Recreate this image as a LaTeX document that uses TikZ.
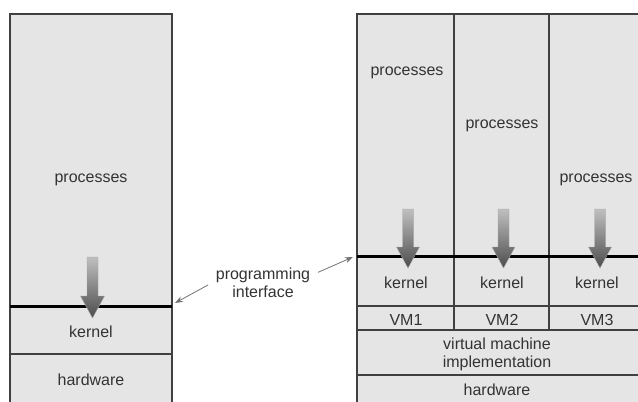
\documentclass[tikz,border=0pt]{standalone}
\usepackage{fontspec}
\setmainfont{Liberation Sans}
\usetikzlibrary{arrows.meta,positioning}

\tikzset{
  layer/.style={draw=black!75, fill=black!10, line width=1.3pt},
  api/.style={draw=black, line width=3pt},
  txt/.style={font=\fontsize{16}{18}\selectfont, text=black!80, inner sep=0pt, align=center},
  ptr/.style={draw=black!55, line width=0.8pt, -{Stealth[length=8pt,width=6pt]}, shorten <=4pt},
  callshade/.style={top color=black!25, bottom color=black!70, draw=black!35, line width=0.4pt}
}
% x, top, head start, tip, head half width, shaft half width
\newcommand{\procarrow}[6]{%
  \shade[callshade] ({#1-#6},#2) -- ({#1+#6},#2) -- ({#1+#6},#3) -- ({#1+#5},#3) -- (#1,#4)
    -- ({#1-#5},#3) -- ({#1-#6},#3) -- cycle;}

\begin{document}
\begin{tikzpicture}[x=1pt, y=-1pt, on grid]
  \useasboundingbox (0,0) rectangle (638,402);
  \clip (0,0) rectangle (638,402);

  % plain machine
  \draw[layer] (10,14) rectangle (172,420);
  \draw[layer] (10,354) -- (172,354);
  \draw[api] (10,306) -- (172,306);
  \procarrow{92.5}{257}{296}{318}{12}{5.5}

  \node[txt] (proc0) at (91,180) {processes};
  \node[txt] (kern0) at (91,332) {kernel};
  \node[txt] (hw0) at (91,380) {hardware};

  % virtual machines
  \draw[layer] (357,14) rectangle (660,420);
  \draw[layer] (454,14) -- (454,330);
  \draw[layer] (549,14) -- (549,330);
  \draw[layer] (357,306) -- (660,306);
  \draw[layer] (357,330) -- (660,330);
  \draw[layer] (357,375) -- (660,375);
  \draw[api] (357,256) -- (660,256);
  \procarrow{408}{209}{247}{268}{11.5}{5.5}
  \procarrow{503.5}{209}{247}{268}{11.5}{5.5}
  \procarrow{600}{209}{247}{268}{11.5}{5.5}

  \node[txt] (proc1) at (407,73) {processes};
  \node[txt] (proc2) at (502,126) {processes};
  \node[txt] (proc3) at (596,180) {processes};
  \node[txt] (kern1) at (406,283) {kernel};
  \node[txt, right=96pt of kern1] (kern2) {kernel};
  \node[txt, right=95pt of kern2] (kern3) {kernel};
  \node[txt, below=37pt of kern1] (vm1) {VM1};
  \node[txt, below=37pt of kern2] (vm2) {VM2};
  \node[txt, below=37pt of kern3] (vm3) {VM3};
  \node[txt] (vmi) at (497,354) {virtual machine\\implementation};
  \node[txt] (hw1) at (497,390) {hardware};

  % programming interface
  \node[txt, inner sep=4pt] (api) at (263,283) {programming\\interface};
  \coordinate (lapi) at (175,303);
  \coordinate (rapi) at (353,257);
  \draw[ptr] (api.west) -- (lapi);
  \draw[ptr] (api.10) -- (rapi);
\end{tikzpicture}
\end{document}
